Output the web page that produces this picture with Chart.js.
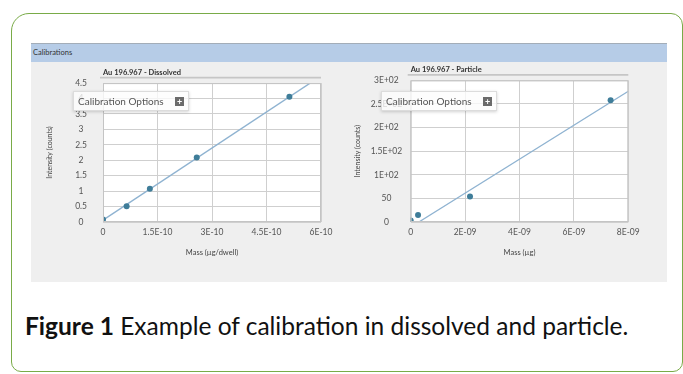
<!DOCTYPE html>
<html>
<head>
<meta charset="utf-8">
<script src="https://cdn.jsdelivr.net/npm/chart.js@4.4.0/dist/chart.umd.min.js"></script>
<style>
  html, body { margin: 0; padding: 0; background: #ffffff; }
  body { width: 683px; height: 374px; position: relative; overflow: hidden; font-family: Lato, "Open Sans", sans-serif; }
  .frame { position: absolute; left: 11px; top: 13px; width: 672px; height: 359px; box-sizing: border-box;
           border: 1.5px solid #79ab47; border-radius: 18px 12px 10px 10px; }
  .panel { position: absolute; left: 31px; top: 43px; width: 636px; height: 239px; background: #efefef; }
  .header { position: absolute; left: 31px; top: 43px; width: 636px; height: 19px; box-sizing: border-box;
            background: #b6cce7; border-top: 1px solid #a3adb8; font-size: 7.5px; line-height: 18px; color: #333; padding-left: 2px; }
  canvas.c { position: absolute; }
  .opts { position: absolute; height: 20px; box-sizing: border-box; background: rgba(252,252,252,0.78);
          border: 1px solid #dcdcdc; box-shadow: 0 1px 3px rgba(0,0,0,0.18); font-size: 10px; color: #555; line-height: 18px; padding-left: 4px; }
  .opts .btn { position: absolute; right: 4px; top: 5px; width: 9px; height: 9px; background: #6b6b6b; color: #fff;
               font-size: 9px; line-height: 9px; text-align: center; font-weight: bold; }
  .caption { position: absolute; left: 25px; white-space: nowrap; color: #111; }
</style>
</head>
<body>
<div class="frame"></div>
<div class="panel"></div>
<div class="header">Calibrations</div>
<canvas class="c" id="c1" style="left:30px; top:62px; width:315px; height:200px;" width="315" height="200"></canvas>
<canvas class="c" id="c2" style="left:338px; top:62px; width:315px; height:200px;" width="315" height="200"></canvas>
<div class="opts" style="left:73px; top:91px; width:116px;">Calibration Options<div class="btn">+</div></div>
<div class="opts" style="left:381px; top:91px; width:116px;">Calibration Options<div class="btn">+</div></div>
<div class="caption" id="cap"><b>Figure 1</b> Example of calibration in dissolved and particle.</div>

<script>
// ---------- data ----------
const dissolvedTitle = 'Au 196.967 - Dissolved';
const dissolvedMass = [0, 6.5e-11, 1.29e-10, 2.58e-10, 5.13e-10];
const dissolvedIntensity = [0.08, 0.51, 1.08, 2.09, 4.06];
const dissolvedFitMass = [0, 5.7e-10];
const dissolvedFitIntensity = [0.06, 4.5];
const dissolvedXTicks = [0, 1.5e-10, 3e-10, 4.5e-10, 6e-10];
const dissolvedXLabels = ['0', '1.5E-10', '3E-10', '4.5E-10', '6E-10'];
const dissolvedYTicks = [0, 0.5, 1, 1.5, 2, 2.5, 3, 3.5, 4, 4.5];
const dissolvedYLabels = ['0', '0.5', '1', '1.5', '2', '2.5', '3', '3.5', '4', '4.5'];

const particleTitle = 'Au 196.967 - Particle';
const particleMass = [0, 2.7e-10, 2.18e-9, 7.35e-9];
const particleIntensity = [3, 15, 54, 258];
const particleFitMass = [3e-10, 8e-9];
const particleFitIntensity = [0, 277];
const particleXTicks = [0, 2e-9, 4e-9, 6e-9, 8e-9];
const particleXLabels = ['0', '2E-09', '4E-09', '6E-09', '8E-09'];
const particleYTicks = [0, 50, 100, 150, 200, 250, 300];
const particleYLabels = ['0', '50', '1E+02', '1.5E+02', '2E+02', '2.5E+02', '3E+02'];

// ---------- styling ----------
Chart.defaults.font.family = 'Lato, "Open Sans", sans-serif';
Chart.defaults.animation = false;
const gridColor = '#cfcfcf';
const tickColor = '#555555';
const pointColor = '#3f7d99';
const lineColor = '#8fb3d1';

const areaPlugin = {
  id: 'area',
  beforeDraw(chart) {
    const a = chart.chartArea, ctx = chart.ctx;
    ctx.save();
    ctx.fillStyle = '#ffffff';
    ctx.fillRect(a.left, a.top, a.right - a.left, a.bottom - a.top);
    // title underline
    ctx.strokeStyle = '#c6c6c6';
    ctx.lineWidth = 1.6;
    ctx.beginPath();
    ctx.moveTo(a.left - 3, a.top - 5.5);
    ctx.lineTo(a.right, a.top - 5.5);
    ctx.stroke();
    ctx.restore();
  },
  afterDatasetsDraw(chart) {},
  afterDraw(chart) {
    const a = chart.chartArea, ctx = chart.ctx;
    ctx.save();
    ctx.strokeStyle = '#c4c4c4';
    ctx.lineWidth = 1;
    ctx.strokeRect(a.left + 0.5, a.top + 0.5, a.right - a.left - 1, a.bottom - a.top - 1);
    ctx.restore();
  }
};

function zip(xs, ys) { return xs.map((x, i) => ({ x: x, y: ys[i] })); }

function makeChart(id, cfg) {
  return new Chart(document.getElementById(id), {
    type: 'scatter',
    data: {
      datasets: [
        { data: zip(cfg.fitX, cfg.fitY), showLine: true, borderColor: lineColor, borderWidth: 1.3,
          pointRadius: 0, pointHoverRadius: 0, order: 2 },
        { data: zip(cfg.x, cfg.y), showLine: false, pointRadius: 3, pointBackgroundColor: pointColor,
          pointBorderColor: pointColor, pointBorderWidth: 0, clip: 0, order: 1 }
      ]
    },
    options: {
      responsive: false,
      maintainAspectRatio: false,
      events: [],
      layout: { padding: { left: 0, top: 0, bottom: 0, right: cfg.padRight } },
      plugins: {
        legend: { display: false },
        tooltip: { enabled: false },
        title: { display: true, text: cfg.title, fullSize: false, align: 'start', color: '#333',
                 font: { size: 7.5, weight: 'bold' }, padding: { top: 3, bottom: 6.4 } }
      },
      scales: {
        x: {
          type: 'linear', min: cfg.xTicks[0], max: cfg.xTicks[cfg.xTicks.length - 1],
          afterBuildTicks: s => { s.ticks = cfg.xTicks.map(v => ({ value: v })); },
          afterFit: s => { s.height = 40; },
          grid: { color: gridColor, drawTicks: false },
          border: { display: false },
          ticks: { color: tickColor, font: { size: 8.5 }, padding: 5, maxRotation: 0,
                   callback: (v, i) => cfg.xLabels[i] },
          title: { display: true, text: cfg.xTitle, color: '#444', font: { size: 7.5 }, padding: { top: 0, bottom: 4.8 } }
        },
        y: {
          type: 'linear', min: cfg.yTicks[0], max: cfg.yTicks[cfg.yTicks.length - 1],
          afterBuildTicks: s => { s.ticks = cfg.yTicks.map(v => ({ value: v })); },
          afterFit: s => { s.width = cfg.yWidth; },
          grid: { color: gridColor, drawTicks: false },
          border: { display: false },
          ticks: { color: tickColor, font: { size: 8.5 }, padding: cfg.yPad, crossAlign: 'center',
                   callback: (v, i) => cfg.yLabels[i] },
          title: { display: true, text: 'Intensity (counts)', color: '#444', font: { size: 7 }, padding: { top: 15.5, bottom: 15.5 } }
        }
      }
    },
    plugins: [areaPlugin]
  });
}

makeChart('c1', {
  title: dissolvedTitle, x: dissolvedMass, y: dissolvedIntensity,
  fitX: dissolvedFitMass, fitY: dissolvedFitIntensity,
  xTicks: dissolvedXTicks, xLabels: dissolvedXLabels, yTicks: dissolvedYTicks, yLabels: dissolvedYLabels,
  xTitle: 'Mass (µg/dwell)', yWidth: 73, yPad: 16, padRight: 24
});
makeChart('c2', {
  title: particleTitle, x: particleMass, y: particleIntensity,
  fitX: particleFitMass, fitY: particleFitIntensity,
  xTicks: particleXTicks, xLabels: particleXLabels, yTicks: particleYTicks, yLabels: particleYLabels,
  xTitle: 'Mass (µg)', yWidth: 72.7, yPad: 8.5, padRight: 24.7
});

// caption: fit to target width
(function () {
  const cap = document.getElementById('cap');
  const ctx = document.createElement('canvas').getContext('2d');
  const fam = 'Lato, "Open Sans", sans-serif';
  ctx.font = 'bold 20px ' + fam;
  let w = ctx.measureText('Figure 1').width;
  ctx.font = '20px ' + fam;
  w += ctx.measureText(' Example of calibration in dissolved and particle.').width;
  const size = 20 * 604 / w;
  cap.style.fontSize = size.toFixed(2) + 'px';
  cap.style.lineHeight = size.toFixed(2) + 'px';
  cap.style.top = (326 - size / 2).toFixed(1) + 'px';
})();
</script>
</body>
</html>
